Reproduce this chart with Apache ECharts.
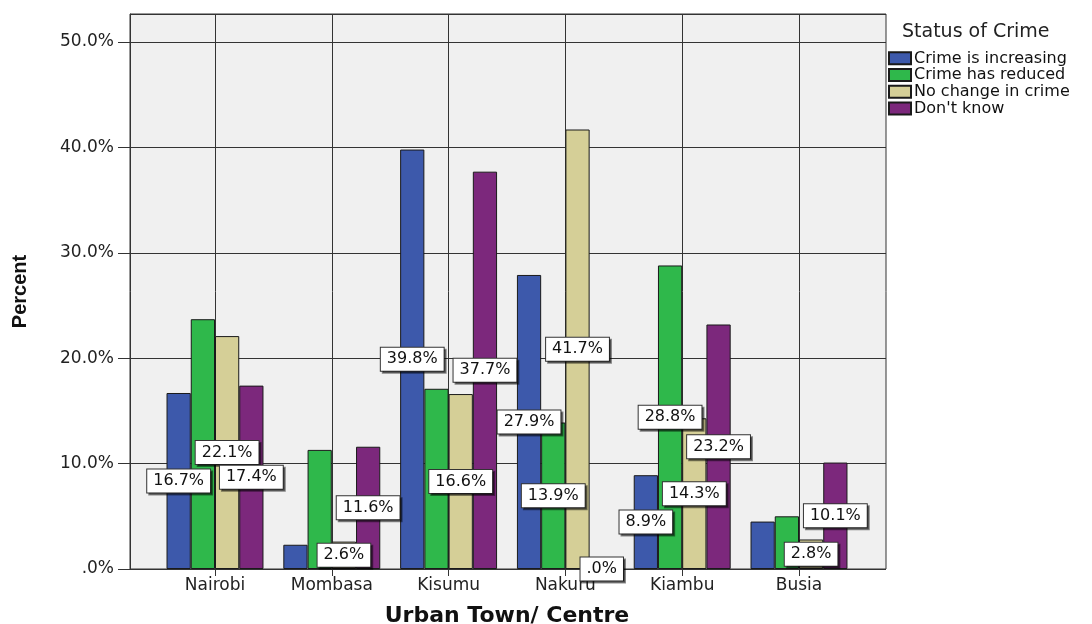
<!DOCTYPE html>
<html>
<head>
<meta charset="utf-8">
<script src="https://cdn.jsdelivr.net/npm/echarts@6/dist/echarts.min.js"></script>
<style>html,body{margin:0;padding:0;background:#fff;}#c{width:1092px;height:624px;}</style>
</head>
<body>
<div id="c"></div>
<script>
var categories = ['Nairobi', 'Mombasa', 'Kisumu', 'Nakuru', 'Kiambu', 'Busia'];
var seriesNames = ['Crime is increasing', 'Crime has reduced', 'No change in crime', "Don't know"];
var increasing = [16.7, 2.3, 39.8, 27.9, 8.9, 4.5];
var reduced = [23.7, 11.3, 17.1, 13.9, 28.8, 5.0];
var noChange = [22.1, 2.6, 16.6, 41.7, 14.3, 2.8];
var dontKnow = [17.4, 11.6, 37.7, 0.0, 23.2, 10.1];
var labelShown = [
  [true, false, true, true, true, false],
  [false, false, false, true, true, false],
  [true, true, true, true, true, true],
  [true, true, true, true, true, true]
];
var yTicks = [0, 10, 20, 30, 40, 50];
var colors = ['#3d59ab', '#2fb84b', '#d5cf97', '#7c287c'];

var FONT = 'DejaVu Sans';
var YMAX = 52.66;

function fmt(v) { return v === 0 ? '.0%' : v.toFixed(1) + '%'; }

var allValues = [increasing, reduced, noChange, dontKnow];
var series = allValues.map(function (vals, si) {
  return {
    name: seriesNames[si],
    type: 'bar',
    xAxisIndex: 1,
    yAxisIndex: 1,
    barGap: '0%',
    barCategoryGap: '17%',
    clip: false,
    itemStyle: { color: colors[si], borderColor: '#1a1a1a', borderWidth: 1 },
    data: vals.map(function (v, i) {
      return {
        value: v,
        label: { show: labelShown[si][i] }
      };
    }),
    label: {
      position: 'inside',
      formatter: function (p) { return fmt(p.value); },
      fontFamily: FONT,
      fontSize: 16,
      color: '#111',
      backgroundColor: '#fff',
      borderColor: '#333',
      borderWidth: 1,
      padding: [4, 6, 3, 6],
      shadowColor: 'rgba(0,0,0,0.45)',
      shadowOffsetX: 2,
      shadowOffsetY: 2,
      shadowBlur: 0
    }
  };
});

var chart = echarts.init(document.getElementById('c'));
chart.setOption({
  animation: false,
  backgroundColor: '#fff',
  title: {
    text: 'Status of Crime',
    left: 902,
    top: 23,
    padding: 0,
    textStyle: { fontFamily: FONT, fontSize: 19, fontWeight: 'normal', color: '#222' }
  },
  legend: {
    orient: 'vertical',
    left: 888,
    top: 50,
    padding: 0,
    itemWidth: 22,
    itemHeight: 12,
    itemGap: 0,
    icon: 'rect',
    data: seriesNames,
    textStyle: { fontFamily: FONT, fontSize: 16, color: '#111', lineHeight: 16.7, padding: [0, 0, 0, -2] }
  },
  grid: [
    { left: 130, right: 206, top: 14, bottom: 55, outerBoundsMode: 'none', show: true, backgroundColor: '#f0f0f0', borderColor: '#333', borderWidth: 1 },
    { left: 215, right: 293, top: 14, bottom: 55, outerBoundsMode: 'none' }
  ],
  xAxis: [
    { gridIndex: 0, type: 'value', show: false, min: 0, max: 1 },
    {
      gridIndex: 1,
      type: 'category',
      data: categories,
      boundaryGap: false,
      axisLine: { show: true, lineStyle: { color: '#333' } },
      axisTick: { show: true, length: 7, lineStyle: { color: '#333' } },
      splitLine: { show: true, lineStyle: { color: '#333', width: 1 } },
      axisLabel: { fontFamily: FONT, fontSize: 17, color: '#222', margin: 8 },
      name: 'Urban Town/ Centre',
      nameLocation: 'middle',
      nameGap: 36,
      nameTextStyle: { fontFamily: FONT, fontSize: 22, fontWeight: 'bold', color: '#111' }
    }
  ],
  yAxis: [
    {
      gridIndex: 0,
      type: 'value',
      min: 0,
      max: YMAX,
      interval: 10,
      axisLine: { show: true, lineStyle: { color: '#333' } },
      axisTick: { show: true, length: 12, lineStyle: { color: '#333' } },
      splitLine: { show: true, lineStyle: { color: '#333', width: 1 } },
      axisLabel: {
        showMaxLabel: false,
        fontFamily: FONT,
        fontSize: 17,
        color: '#222',
        margin: 16,
        formatter: function (v) { return yTicks.indexOf(v) >= 0 ? fmt(v) : ''; }
      },
      name: 'Percent',
      nameLocation: 'middle',
      nameGap: 100,
      nameRotate: 90,
      nameTextStyle: { fontFamily: 'Liberation Sans', fontSize: 20, fontWeight: 'bold', color: '#111' }
    },
    { gridIndex: 1, type: 'value', min: 0, max: YMAX, show: false }
  ],
  series: series
});
</script>
</body>
</html>
